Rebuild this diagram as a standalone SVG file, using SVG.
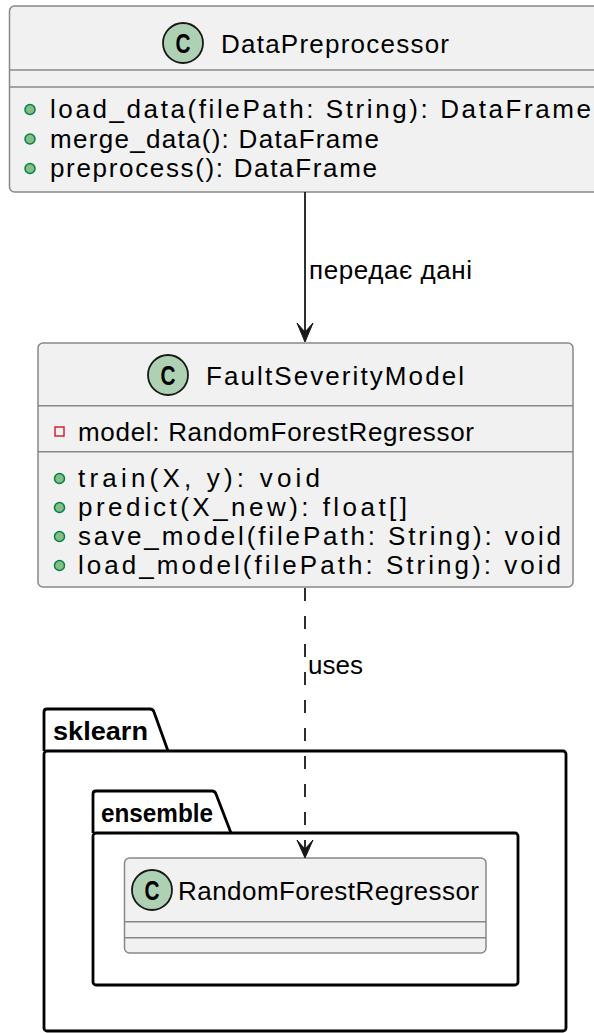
<svg xmlns="http://www.w3.org/2000/svg" width="594" height="1033" viewBox="0 0 594 1033">
<style>
.bg{fill:#ffffff}
.box{fill:#f1f1f1;stroke:#888888;stroke-width:1.5}
.sep{stroke:#888888;stroke-width:1.5}
.t{font-family:"Liberation Sans",Arial,sans-serif;font-size:26px;fill:#000000}
.pk{font-family:"Liberation Sans",Arial,sans-serif;font-weight:bold;font-size:26px;fill:#000000}
.pkg{fill:none;stroke:#000000;stroke-width:2.8;stroke-linejoin:round}
.circ{fill:#ADD1B2;stroke:#181818;stroke-width:1.8}
.cg{font-family:"Liberation Sans",Arial,sans-serif;font-weight:bold;font-size:27px;fill:#000000}
.bul{fill:#84BE84;stroke:#038048;stroke-width:1.5}
.priv{fill:none;stroke:#C82930;stroke-width:1.5}
.edge{stroke:#181818;stroke-width:1.8;fill:none}
.dash{stroke-dasharray:13 15}
.ah{fill:#181818;stroke:#181818;stroke-width:1}
</style>
<rect class="bg" x="0" y="0" width="594" height="1033"/>

<g id="pkg-sklearn">
  <path class="pkg" d="M44,751 L44,712 Q44,709 47,709 L150,709 Q153,709 154,712 L168,751"/>
  <rect class="pkg" x="44" y="751" width="522" height="280" rx="3"/>
  <text class="pk" x="53" y="740" textLength="95" lengthAdjust="spacingAndGlyphs">sklearn</text>
</g>
<g id="pkg-ensemble">
  <path class="pkg" d="M93,833 L93,794 Q93,791 96,791 L212,791 Q215,791 216,794 L231,833"/>
  <rect class="pkg" x="93" y="833" width="425" height="152" rx="3"/>
  <text class="pk" x="101" y="822" textLength="112" lengthAdjust="spacingAndGlyphs">ensemble</text>
</g>

<g id="DataPreprocessor">
  <rect class="box" x="9.5" y="6" width="593" height="186" rx="5"/>
  <circle class="circ" cx="183" cy="43" r="20"/>
  <text class="cg" x="175.5" y="53" textLength="15" lengthAdjust="spacingAndGlyphs">C</text>
  <text class="t" x="221" y="53" textLength="228">DataPreprocessor</text>
  <line class="sep" x1="9.5" y1="70" x2="602.5" y2="70"/>
  <line class="sep" x1="9.5" y1="87" x2="602.5" y2="87"/>
  <circle class="bul" cx="30" cy="109.5" r="5"/>
  <text class="t" x="50" y="118" textLength="541">load_data(filePath: String): DataFrame</text>
  <circle class="bul" cx="30" cy="139" r="5"/>
  <text class="t" x="50" y="147.5" textLength="329">merge_data(): DataFrame</text>
  <circle class="bul" cx="30" cy="168.5" r="5"/>
  <text class="t" x="50" y="177" textLength="327">preprocess(): DataFrame</text>
</g>

<g id="FaultSeverityModel">
  <rect class="box" x="38" y="343" width="535" height="244" rx="5"/>
  <circle class="circ" cx="168" cy="375" r="20"/>
  <text class="cg" x="160.5" y="385" textLength="15" lengthAdjust="spacingAndGlyphs">C</text>
  <text class="t" x="206" y="385" textLength="258">FaultSeverityModel</text>
  <line class="sep" x1="38" y1="405.7" x2="573" y2="405.7"/>
  <rect class="priv" x="55" y="427" width="9" height="9"/>
  <text class="t" x="78" y="441" textLength="396">model: RandomForestRegressor</text>
  <line class="sep" x1="38" y1="451.7" x2="573" y2="451.7"/>
  <circle class="bul" cx="59.5" cy="478.5" r="5"/>
  <text class="t" x="78" y="487" textLength="242">train(X, y): void</text>
  <circle class="bul" cx="59.5" cy="507.5" r="5"/>
  <text class="t" x="78" y="516" textLength="329">predict(X_new): float[]</text>
  <circle class="bul" cx="59.5" cy="536.5" r="5"/>
  <text class="t" x="78" y="545" textLength="483">save_model(filePath: String): void</text>
  <circle class="bul" cx="59.5" cy="565.5" r="5"/>
  <text class="t" x="78" y="574" textLength="483">load_model(filePath: String): void</text>
</g>

<g id="RandomForestRegressor">
  <rect class="box" x="124.5" y="858" width="361.5" height="95" rx="5"/>
  <circle class="circ" cx="152" cy="890" r="20"/>
  <text class="cg" x="144.5" y="900" textLength="15" lengthAdjust="spacingAndGlyphs">C</text>
  <text class="t" x="178" y="900" textLength="301">RandomForestRegressor</text>
  <line class="sep" x1="124.5" y1="921.7" x2="486" y2="921.7"/>
  <line class="sep" x1="124.5" y1="937.7" x2="486" y2="937.7"/>
</g>

<g id="connectors">
  <line class="edge" x1="305" y1="192" x2="305" y2="333"/>
  <polygon class="ah" points="305,342 297,323 305,332 313,323"/>
  <text class="t" x="309" y="279" textLength="163">передає дані</text>
  <line class="edge dash" x1="305" y1="588" x2="305" y2="849"/>
  <polygon class="ah" points="305,858 297,840 305,849 313,840"/>
  <text class="t" x="308" y="674" textLength="55">uses</text>
</g>
</svg>
